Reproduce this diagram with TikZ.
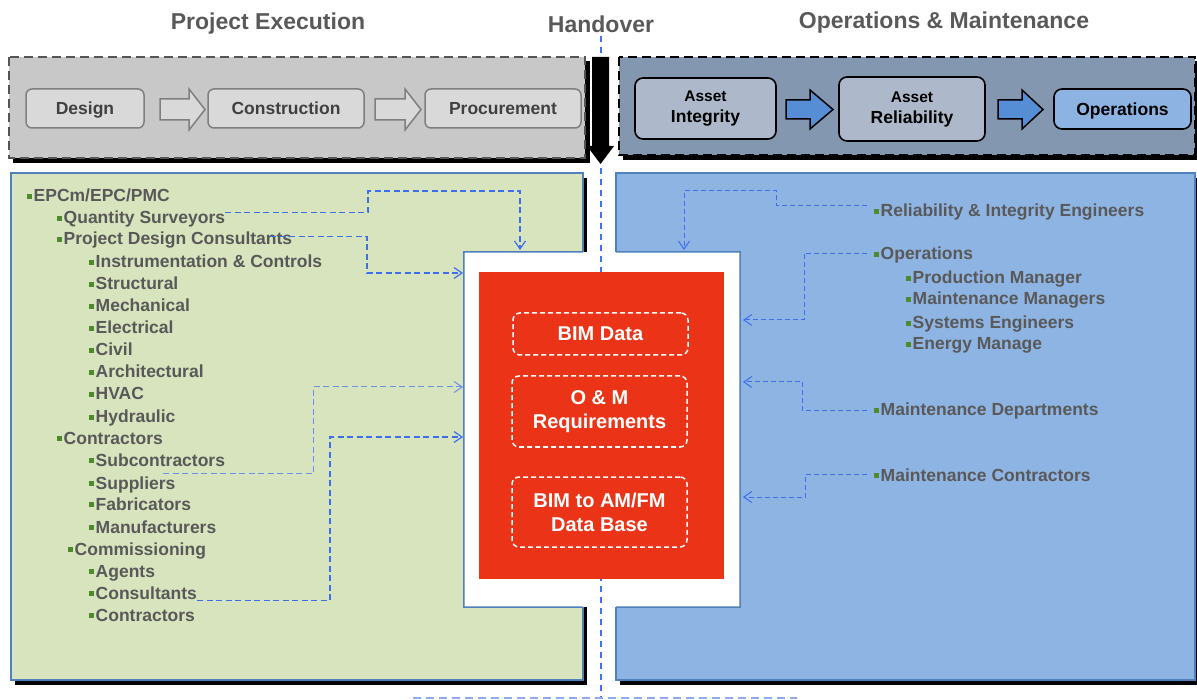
\documentclass[tikz,border=0pt]{standalone}
\usepackage{fontspec}
\setmainfont{Liberation Sans}
\usepackage{tikz}
\usetikzlibrary{arrows.meta}

\definecolor{titlegray}{HTML}{595959}
\definecolor{itemgray}{HTML}{595959}
\definecolor{bulgreen}{HTML}{4E8A2A}
\definecolor{peframe}{HTML}{C8C8C8}
\definecolor{peborder}{HTML}{555555}
\definecolor{pebox}{HTML}{D9D9D9}
\definecolor{peboxline}{HTML}{7F7F7F}
\definecolor{petext}{HTML}{404040}
\definecolor{omframe}{HTML}{8497B0}
\definecolor{ombox}{HTML}{ADB9CA}
\definecolor{opsbox}{HTML}{8DB3E2}
\definecolor{omarrow}{HTML}{558ED5}
\definecolor{greenpanel}{HTML}{D7E4BD}
\definecolor{bluepanel}{HTML}{8EB4E3}
\definecolor{panelline}{HTML}{4F81BD}
\definecolor{bimred}{HTML}{EB3317}
\definecolor{linkblue}{HTML}{3D6EF0}
\definecolor{linklight}{HTML}{6C8FEA}
\definecolor{handblue}{HTML}{4472E8}
\definecolor{baseblue}{HTML}{8FAAF0}

\newcommand\titlefont{\fontsize{23}{26}\selectfont\bfseries}
\newcommand\itemfont{\fontsize{17.5}{21}\selectfont\bfseries}
\newcommand\assetfont{\fontsize{15.5}{21}\selectfont\bfseries}
\newcommand\bimfont{\fontsize{20}{24}\selectfont\bfseries}
\newcommand\sq{{\color{bulgreen}\rule[3pt]{4.5pt}{5pt}}\hspace{2pt}}

\begin{document}
\begin{tikzpicture}[x=1pt,y=-1pt,
    title/.style={font=\titlefont, text=titlegray},
    item/.style={anchor=west, inner sep=0pt, yshift=-1.5pt, text height=12.5pt, text depth=3.5pt, text=itemgray, font=\itemfont},
    pestage/.style={draw=peboxline, line width=1.5pt, fill=pebox, rounded corners=6pt, text=petext, font=\itemfont, minimum height=39pt, inner sep=0pt, text height=12.6pt, text depth=0pt},
    omstage/.style={draw=black, line width=1.6pt, fill=ombox, rounded corners=8pt, font=\itemfont, align=center, inner sep=0pt},
    bimbox/.style={draw=white, line width=1.5pt, dash pattern=on 5pt off 3pt, rounded corners=7pt, text=white, font=\bimfont, align=center, minimum width=175pt, inner sep=0pt},
    link/.style={draw=linkblue, line width=1.2pt, dash pattern=on 6pt off 3.5pt, -{Straight Barb[length=8pt,width=11pt]}},
    rlink/.style={link, line width=1pt, dash pattern=on 5pt off 3pt}]

\fill[white] (0,0) rectangle (1197,700);
\useasboundingbox (0,0) rectangle (1197,700);

% titles
\node[title] (tpe) at (268,24) {Project Execution};
\node[title] (tho) at (601,24) {Handover};
\node[title] (tom) at (944,23) {Operations \& Maintenance};

% top frames
\fill[black] (13,61) rectangle (590,163);
\draw[peborder, fill=peframe, line width=2pt, dash pattern=on 9pt off 5pt] (9,57) rectangle (585,158);
\fill[black] (623,61) rectangle (1199,160);
\draw[black, fill=omframe, line width=2.5pt, dash pattern=on 9pt off 5pt] (619,57) rectangle (1195,155);

% project execution stages
\node[pestage, minimum width=118pt] (design) at (85,108.5) {Design};
\node[pestage, minimum width=156pt] (constr) at (286,108.5) {Construction};
\node[pestage, minimum width=156pt] (procur) at (503,108.5) {Procurement};
\draw[peboxline, fill=pebox, line width=1.5pt] (160,99) -- (189,99) -- (189,89) -- (205,109.5) -- (189,130) -- (189,120) -- (160,120) -- cycle;
\draw[peboxline, fill=pebox, line width=1.5pt] (375,99) -- (405,99) -- (405,89) -- (421,109.5) -- (405,130) -- (405,120) -- (375,120) -- cycle;

% operations stages
\node[omstage, minimum width=141pt, minimum height=61pt] (integ) at (705.5,108.5) {{\assetfont Asset}\\Integrity};
\node[omstage, minimum width=146pt, minimum height=64pt] (relia) at (912,109) {{\assetfont Asset}\\Reliability};
\node[omstage, fill=opsbox, minimum width=137pt, minimum height=40pt, text height=12.6pt, text depth=0pt] (opstage) at (1122.5,109) {Operations};
\draw[black, fill=omarrow, line width=1.5pt] (786,100) -- (810,100) -- (810,90) -- (833,109.5) -- (810,129) -- (810,119) -- (786,119) -- cycle;
\draw[black, fill=omarrow, line width=1.5pt] (998,100) -- (1022,100) -- (1022,90) -- (1043,109.5) -- (1022,129) -- (1022,119) -- (998,119) -- cycle;

% panels
\fill[black] (15,178) rectangle (587,685);
\draw[panelline, fill=greenpanel, line width=1.5pt] (11,173) rectangle (583,680);
\fill[black] (620,178) rectangle (1199,685);
\draw[panelline, fill=bluepanel, line width=1.5pt] (616,173) rectangle (1195,680);

% hub
\node[fill=white, minimum width=276pt, minimum height=355pt, inner sep=0pt] (hub) at (602,429.5) {};
\draw[panelline, line width=1.5pt] (583,252) -- (hub.north west) -- (hub.south west) -- (583,607);
\draw[panelline, line width=1.5pt] (616,252) -- (hub.north east) -- (hub.south east) -- (616,607);

% handover line
\draw[handblue, line width=1.2pt, dash pattern=on 6pt off 5pt] (601,36) -- (601,697);
\draw[baseblue, line width=1.2pt, dash pattern=on 8pt off 5pt] (413,698) -- (797,698);
\fill[black] (592,57) -- (609,57) -- (609,146) -- (614,146) -- (600.5,164) -- (587,146) -- (592,146) -- cycle;

% BIM block
\node[fill=bimred, minimum width=245pt, minimum height=307pt, inner sep=0pt] (bim) at (601.5,425.5) {};
\node[bimbox, minimum height=42pt] (bimdata) at (600.5,334) {BIM Data};
\node[bimbox, minimum height=71pt] (omreq) at (599.5,411.5) {O \& M\\Requirements};
\node[bimbox, minimum height=70pt] (amfm) at (599.5,512) {BIM to AM/FM\\Data Base};

% project side
\node[item] (epc) at (27,196) {\sq EPCm/EPC/PMC};
\node[item] (qs) at (57,218) {\sq Quantity Surveyors};
\node[item] (pdc) at (57,239) {\sq Project Design Consultants};
\node[item] (ic) at (89,262) {\sq Instrumentation \& Controls};
\node[item] (struc) at (89,284) {\sq Structural};
\node[item] (mech) at (89,306) {\sq Mechanical};
\node[item] (elec) at (89,328) {\sq Electrical};
\node[item] (civil) at (89,350) {\sq Civil};
\node[item] (arch) at (89,372) {\sq Architectural};
\node[item] (hvac) at (89,394) {\sq HVAC};
\node[item] (hyd) at (89,417) {\sq Hydraulic};
\node[item] (contr) at (57,438) {\sq Contractors};
\node[item] (sub) at (89,460) {\sq Subcontractors};
\node[item] (supp) at (89,483) {\sq Suppliers};
\node[item] (fab) at (89,504) {\sq Fabricators};
\node[item] (manu) at (89,527) {\sq Manufacturers};
\node[item] (comm) at (68,549) {\sq Commissioning};
\node[item] (agents) at (89,571) {\sq Agents};
\node[item] (cons) at (89,593) {\sq Consultants};
\node[item] (ccontr) at (89,615) {\sq Contractors};

% operations side
\node[item] (rie) at (874,211) {\sq Reliability \& Integrity Engineers};
\node[item] (ops) at (874,254) {\sq Operations};
\node[item] (prod) at (906,278) {\sq Production Manager};
\node[item] (mmgr) at (906,299) {\sq Maintenance Managers};
\node[item] (syseng) at (906,323) {\sq Systems Engineers};
\node[item] (energy) at (906,344) {\sq Energy Manage};
\node[item] (mdep) at (874,410) {\sq Maintenance Departments};
\node[item] (mcon) at (874,475) {\sq Maintenance Contractors};

% connector ends on the hub
\coordinate (inQS) at (520,250);
\coordinate (inPDC) at (463,273);
\coordinate (inSub) at (463,387);
\coordinate (inCon) at (463,437);
\coordinate (inRIE) at (684,250);
\coordinate (inOps) at (743,320);
\coordinate (inMD) at (743,382);
\coordinate (inMC) at (743,497);

% connectors
\draw[link] ([yshift=7pt]qs.east) -| (368,191) -| (inQS);
\draw[link] ([xshift=-22pt,yshift=4pt]pdc.east) -| (367,273) -- (inPDC);
\draw[link, draw=linklight, line width=1pt] ([xshift=6pt,yshift=-4pt]sub.south) -| (313,387) -- (inSub);
\draw[link] ([yshift=-6pt]cons.east) -| (330,437) -- (inCon);
\draw[rlink] ([xshift=-7pt,yshift=7pt]rie.west) -| (776,191) -| (inRIE);
\draw[rlink] ([xshift=-7pt,yshift=2pt]ops.west) -| (804,320) -- (inOps);
\draw[rlink] ([xshift=-7pt,yshift=1pt]mdep.west) -| (802,382) -- (inMD);
\draw[rlink] ([xshift=-7pt,yshift=2pt]mcon.west) -| (805,497) -- (inMC);
\end{tikzpicture}
\end{document}
